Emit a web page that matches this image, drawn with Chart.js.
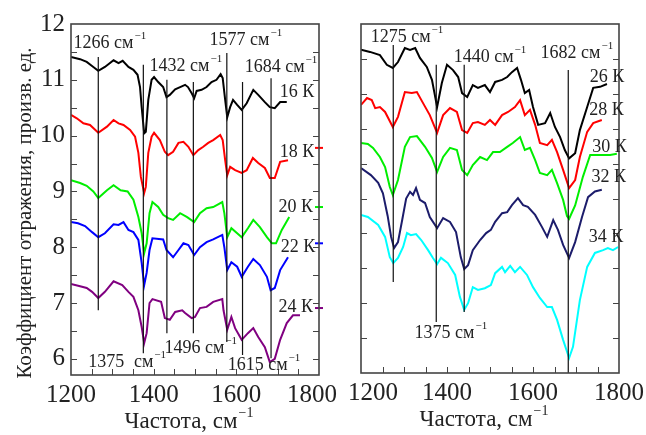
<!doctype html>
<html lang="ru">
<head>
<meta charset="utf-8">
<title>Коэффициент отражения</title>
<script src="https://cdn.jsdelivr.net/npm/chart.js@4.4.1/dist/chart.umd.min.js"></script>
<style>
  html, body { margin:0; padding:0; background:#fff; }
  #wrap { position:relative; width:646px; height:435px; }
  #leftChart { position:absolute; left:0; top:0; }
  #rightChart { position:absolute; left:335px; top:0; }
</style>
</head>
<body>
<div id="wrap">
  <canvas id="leftChart" width="346" height="435"></canvas>
  <canvas id="rightChart" width="311" height="435"></canvas>
</div>
<script>
// ---- left panel spectra: [wavenumber, reflectance]
const k16 = [[1200,11.41],[1222,11.37],[1238,11.32],[1254,11.23],[1266,11.16],[1282,11.23],[1303,11.35],[1315,11.30],[1325,11.34],[1339,11.23],[1351,11.18],[1361,11.09],[1367,10.87],[1371,10.51],[1377,10.04],[1381,10.07],[1387,10.64],[1395,11.0],[1401,11.05],[1411,10.96],[1423,10.87],[1431,10.69],[1439,10.73],[1452,10.83],[1464,10.87],[1476,10.91],[1483,10.87],[1492,10.76],[1498,10.67],[1504,10.80],[1516,10.82],[1528,10.87],[1540,10.96],[1552,11.0],[1562,11.10],[1567,11.03],[1573,10.64],[1578,10.33],[1585,10.51],[1592,10.64],[1602,10.55],[1613,10.46],[1625,10.58],[1641,10.82],[1653,10.73],[1669,10.60],[1681,10.51],[1693,10.49],[1706,10.60],[1722,10.60]];
const k18 = [[1200,10.37],[1214,10.31],[1230,10.22],[1246,10.19],[1266,10.05],[1287,10.16],[1303,10.28],[1315,10.22],[1327,10.19],[1343,10.10],[1355,9.98],[1363,9.69],[1369,9.26],[1377,8.97],[1381,9.08],[1387,9.69],[1395,9.98],[1401,10.05],[1415,9.92],[1427,9.71],[1435,9.65],[1447,9.71],[1460,9.87],[1472,9.89],[1484,9.80],[1496,9.65],[1508,9.74],[1520,9.80],[1532,9.87],[1544,9.92],[1561,10.01],[1567,9.92],[1573,9.56],[1578,9.29],[1585,9.44],[1597,9.38],[1613,9.33],[1625,9.38],[1640,9.60],[1653,9.51],[1669,9.42],[1681,9.24],[1693,9.24],[1706,9.53],[1725,9.56]];
const k20 = [[1200,9.20],[1222,9.15],[1238,9.10],[1254,9.0],[1266,8.88],[1287,9.02],[1303,9.11],[1320,9.02],[1337,9.0],[1351,8.85],[1363,8.54],[1371,8.25],[1377,7.89],[1383,8.07],[1390,8.61],[1397,8.81],[1411,8.72],[1423,8.58],[1435,8.52],[1447,8.49],[1464,8.61],[1481,8.54],[1498,8.45],[1512,8.61],[1528,8.70],[1544,8.72],[1566,8.81],[1571,8.61],[1578,8.18],[1588,8.34],[1602,8.25],[1613,8.18],[1628,8.34],[1641,8.49],[1657,8.36],[1674,8.18],[1686,8.07],[1696,8.07],[1710,8.31],[1728,8.54]];
const k22 = [[1200,8.45],[1217,8.43],[1234,8.38],[1251,8.27],[1266,8.18],[1282,8.25],[1303,8.41],[1315,8.40],[1327,8.45],[1339,8.31],[1351,8.27],[1363,8.13],[1371,7.72],[1377,7.32],[1383,7.54],[1390,7.95],[1397,8.16],[1423,8.14],[1431,7.95],[1447,7.82],[1460,7.95],[1472,8.07],[1484,8.04],[1498,7.86],[1512,8.0],[1528,8.09],[1544,8.14],[1566,8.22],[1571,8.0],[1578,7.59],[1588,7.73],[1602,7.65],[1613,7.47],[1628,7.65],[1641,7.79],[1657,7.68],[1674,7.47],[1683,7.23],[1693,7.27],[1706,7.59],[1725,7.82]];
const k24 = [[1200,7.34],[1222,7.30],[1238,7.27],[1251,7.20],[1266,7.09],[1282,7.20],[1303,7.39],[1324,7.32],[1339,7.20],[1351,7.11],[1363,6.87],[1371,6.57],[1377,6.28],[1383,6.46],[1390,7.0],[1397,7.07],[1418,7.02],[1427,6.73],[1439,6.70],[1452,6.84],[1469,6.87],[1476,6.82],[1492,6.73],[1500,6.75],[1512,6.91],[1528,6.93],[1544,7.02],[1566,7.07],[1569,6.87],[1578,6.52],[1588,6.75],[1597,6.55],[1613,6.34],[1628,6.46],[1641,6.55],[1653,6.39],[1669,6.21],[1681,5.94],[1693,6.0],[1706,6.34],[1722,6.64],[1737,6.78],[1754,6.78]];

// ---- right panel spectra
const k26 = [[1200,9.26],[1221,9.20],[1244,9.11],[1260,8.83],[1274,8.74],[1286,8.91],[1302,9.31],[1314,9.26],[1326,9.31],[1337,9.03],[1353,8.77],[1365,8.40],[1377,7.62],[1388,8.31],[1400,8.83],[1414,8.68],[1426,8.48],[1435,8.02],[1447,7.91],[1460,8.25],[1472,8.17],[1488,8.25],[1500,8.05],[1512,8.34],[1528,8.40],[1540,8.48],[1551,8.62],[1563,8.74],[1572,8.40],[1581,8.02],[1591,8.11],[1600,7.62],[1612,7.11],[1628,7.16],[1640,7.45],[1651,7.05],[1663,6.76],[1674,6.39],[1684,6.15],[1698,6.30],[1709,6.96],[1726,7.62],[1740,8.17],[1756,8.20],[1772,8.28]];
const k28 = [[1200,7.68],[1214,7.88],[1225,7.82],[1233,7.59],[1244,7.62],[1256,7.48],[1274,7.05],[1286,7.34],[1302,8.05],[1318,8.02],[1330,8.05],[1344,7.74],[1360,7.39],[1377,6.88],[1391,7.39],[1407,7.59],[1423,7.48],[1435,6.96],[1447,6.88],[1460,7.16],[1472,7.19],[1488,7.11],[1500,7.25],[1512,7.11],[1528,7.39],[1542,7.48],[1558,7.62],[1570,7.82],[1581,7.39],[1593,7.54],[1605,7.11],[1616,6.59],[1633,6.53],[1644,6.68],[1656,6.33],[1670,5.82],[1684,5.30],[1698,5.53],[1709,6.19],[1726,6.91],[1740,7.16],[1760,7.25]];
const k30 = [[1200,6.59],[1216,6.56],[1228,6.45],[1244,6.19],[1256,5.90],[1267,5.33],[1274,5.10],[1286,5.53],[1302,6.48],[1314,6.76],[1330,6.79],[1349,6.48],[1365,6.16],[1377,5.76],[1391,6.19],[1407,6.45],[1423,6.39],[1435,5.82],[1447,5.67],[1460,5.96],[1477,6.19],[1493,6.10],[1507,6.33],[1523,6.33],[1540,6.48],[1553,6.59],[1570,6.76],[1581,6.39],[1593,6.45],[1605,6.10],[1616,5.73],[1633,5.67],[1644,5.82],[1656,5.44],[1670,4.96],[1679,4.50],[1684,4.42],[1698,4.80],[1716,5.62],[1733,6.25],[1749,6.25],[1779,6.25],[1795,6.28]];
const k32 = [[1200,5.87],[1223,5.67],[1240,5.45],[1251,5.15],[1262,4.50],[1270,3.90],[1277,3.58],[1286,3.75],[1296,4.40],[1305,5.0],[1314,5.19],[1321,5.10],[1328,5.30],[1337,4.96],[1349,4.87],[1360,4.47],[1377,4.15],[1391,4.44],[1407,4.33],[1421,4.04],[1432,3.32],[1440,2.98],[1449,3.09],[1460,3.52],[1477,3.81],[1491,4.01],[1502,4.10],[1512,4.33],[1528,4.58],[1540,4.61],[1551,4.81],[1565,5.01],[1577,4.81],[1588,4.76],[1605,4.53],[1621,4.18],[1633,3.90],[1647,4.38],[1658,4.10],[1670,3.67],[1684,3.30],[1698,3.75],[1714,4.47],[1728,5.04],[1744,5.20],[1760,5.25]];
const k34 = [[1200,4.53],[1216,4.47],[1240,4.24],[1256,3.90],[1267,3.32],[1275,3.15],[1286,3.30],[1298,3.61],[1307,4.01],[1316,3.95],[1328,3.98],[1340,3.81],[1356,3.52],[1367,3.30],[1377,3.12],[1386,3.30],[1402,3.15],[1419,2.81],[1430,2.18],[1440,1.81],[1449,2.0],[1460,2.46],[1472,2.38],[1488,2.43],[1502,2.52],[1512,2.86],[1528,3.04],[1535,2.89],[1547,3.07],[1558,2.89],[1570,3.04],[1586,2.81],[1600,2.46],[1616,2.15],[1633,1.89],[1644,1.89],[1656,1.52],[1670,0.95],[1684,0.43],[1693,0.75],[1709,2.09],[1726,3.04],[1744,3.44],[1763,3.52],[1774,3.58],[1786,3.52],[1798,3.61]];

// ---- marker lines: wavenumber, top, bottom
const leftMarks  = [1266, 1375, 1432, 1496, 1577, 1615, 1684];
const leftTop    = [11.41, 11.27, 11.0, 10.96, 11.48, 10.96, 11.03];
const leftBottom = [6.87, 6.10, 6.46, 6.46, 6.30, 6.07, 6.01];
const rightMarks  = [1275, 1375, 1440, 1682];
const rightTop    = [9.40, 8.83, 8.83, 8.68];
const rightBottom = [2.61, 1.46, 1.75, 0];

// ---- labels
const xTickLabels = [1200, 1400, 1600, 1800];
const leftYTicks = [6, 7, 8, 9, 10, 11, 12];
const leftTemps = ['16 К', '18 К', '20 К', '22 К', '24 К'];
const leftTempY = [10.78, 9.71, 8.72, 8.0, 6.93];
const leftTempX = [1747, 1747, 1744, 1749, 1744];
const rightTemps = ['26 К', '28 К', '30 К', '32 К', '34 К'];
const rightTempY = [8.48, 7.54, 6.48, 5.62, 3.90];
const rightTempX = [1772, 1771, 1778, 1776, 1770];
const leftNotes = [
  ['1266 см', '−1', 1294, 11.66], ['1432 см', '−1', 1478, 11.25],
  ['1577 см', '−1', 1623, 11.71], ['1684 см', '−1', 1708, 11.23],
  ['1375', '', 1285, 5.94], ['см', '−1', 1391, 5.94],
  ['1496 см', '−1', 1514, 6.19], ['1615 см', '−1', 1667, 5.89]
];
const rightNotes = [
  ['1275 см', '−1', 1307, 9.63], ['1440 см', '−1', 1500, 9.05],
  ['1682 см', '−1', 1702, 9.17], ['1375 см', '−1', 1409, 1.15]
];
const edgeDashY = [9.78, 8.72, 8.07, 6.91];

const SERIF = '"Liberation Serif", "DejaVu Serif", serif';
const INK = '#222';

function supText(ctx, base, sup, cx, cy, size) {
  ctx.font = size + 'px ' + SERIF;
  const wb = ctx.measureText(base).width;
  ctx.font = Math.round(size * 0.62) + 'px ' + SERIF;
  const ws = sup ? ctx.measureText(sup).width + 1 : 0;
  let x0 = cx - (wb + ws) / 2;
  ctx.textAlign = 'left';
  ctx.textBaseline = 'middle';
  ctx.font = size + 'px ' + SERIF;
  ctx.fillText(base, x0, cy);
  if (sup) {
    ctx.font = Math.round(size * 0.62) + 'px ' + SERIF;
    ctx.fillText(sup, x0 + wb + 1, cy - size * 0.38);
  }
}

const decor = {
  id: 'decor',
  afterDraw(chart, args, o) {
    const {ctx, chartArea: a, scales: {x, y}} = chart;
    ctx.save();
    ctx.fillStyle = INK;
    ctx.strokeStyle = '#444';
    ctx.lineWidth = 1;
    // inward ticks
    for (let v = 1250; v < 1800; v += 50) {
      const px = Math.round(x.getPixelForValue(v)) + 0.5;
      ctx.beginPath(); ctx.moveTo(px, a.bottom); ctx.lineTo(px, a.bottom - 6); ctx.stroke();
    }
    for (let v = o.yStart; v < y.max - 0.01; v += o.yStep) {
      const py = Math.round(y.getPixelForValue(v)) + 0.5;
      ctx.beginPath(); ctx.moveTo(a.left, py); ctx.lineTo(a.left + 6, py); ctx.stroke();
      ctx.beginPath(); ctx.moveTo(a.right, py); ctx.lineTo(a.right - 6, py); ctx.stroke();
    }
    // frame
    ctx.lineWidth = 1.6;
    ctx.strokeRect(a.left, a.top, a.right - a.left, a.bottom - a.top);
    // x tick labels
    ctx.font = '25px ' + SERIF;
    ctx.textAlign = 'center';
    ctx.textBaseline = 'middle';
    xTickLabels.forEach((v, i) => {
      ctx.fillText(String(v), x.getPixelForValue(v) + o.xShift[i], a.bottom + 20);
    });
    supText(ctx, 'Частота, см', '−1', (a.left + a.right) / 2 - 6, a.bottom + 47, 23);
    // y labels (left panel only)
    if (o.yLabels) {
      ctx.font = '25px ' + SERIF;
      ctx.textAlign = 'right';
      ctx.textBaseline = 'middle';
      o.yLabels.forEach(v => ctx.fillText(String(v), a.left - 6, y.getPixelForValue(v)));
      ctx.save();
      ctx.translate(25, 213);
      ctx.rotate(-Math.PI / 2);
      ctx.font = '21px ' + SERIF;
      ctx.textAlign = 'center';
      ctx.fillText('Коэффициент отражения, произв. ед.', 0, 0);
      ctx.restore();
    }
    // peak labels
    o.notes.forEach(n => supText(ctx, n[0], n[1], x.getPixelForValue(n[2]), y.getPixelForValue(n[3]), 18));
    // temperature labels
    o.temps.forEach((t, i) => supText(ctx, t, '', x.getPixelForValue(o.tempX[i]), y.getPixelForValue(o.tempY[i]), 18));
    ctx.restore();
  }
};

function curve(data, color) {
  return { data, borderColor: color, borderWidth: 2, pointRadius: 0, tension: 0, fill: false };
}
function marks(xs, tops, bottoms) {
  return xs.map((f, i) => ({
    data: [[f, tops[i]], [f, bottoms[i]]],
    borderColor: '#111', borderWidth: 1.2, pointRadius: 0, order: -1
  }));
}

function makeChart(id, datasets, yMin, yMax, padding, extra) {
  return new Chart(document.getElementById(id), {
    type: 'line',
    data: { datasets },
    options: {
      responsive: false,
      animation: false,
      layout: { padding },
      plugins: { legend: { display: false }, tooltip: { enabled: false }, decor: extra },
      scales: {
        x: { type: 'linear', min: 1200, max: 1800, display: false },
        y: { type: 'linear', min: yMin, max: yMax, display: false }
      }
    },
    plugins: [decor]
  });
}

const leftSets = marks(leftMarks, leftTop, leftBottom).concat([
  curve(k16, '#000000'),
  curve(k18, '#ff0000'),
  curve(k20, '#00ee00'),
  curve(k22, '#0000ff'),
  curve(k24, '#800080'),
  {
    data: edgeDashY.map(v => [1800, v]),
    showLine: false, clip: false, pointStyle: 'line', pointRadius: 4, borderWidth: 2,
    pointBorderColor: ['#ff0000', '#00ee00', '#0000ff', '#800080'], borderColor: 'transparent'
  }
]);

makeChart('leftChart', leftSets, 5.71, 12, { left: 71, right: 27, top: 24, bottom: 60 }, {
  yStart: 6, yStep: 0.5, yLabels: leftYTicks, xShift: [0, 0, 0, -7],
  notes: leftNotes, temps: leftTemps, tempX: leftTempX, tempY: leftTempY
});

const rightSets = marks(rightMarks, rightTop, rightBottom).concat([
  curve(k26, '#000000'),
  curve(k28, '#ff0000'),
  curve(k30, '#00ee00'),
  curve(k32, '#1c1c6b'),
  curve(k34, '#00ffff')
]);

makeChart('rightChart', rightSets, 0, 10, { left: 26, right: 27, top: 24, bottom: 62 }, {
  yStart: 1, yStep: 1, yLabels: null, xShift: [12, 0, 0, 0],
  notes: rightNotes, temps: rightTemps, tempX: rightTempX, tempY: rightTempY
});
</script>
</body>
</html>
